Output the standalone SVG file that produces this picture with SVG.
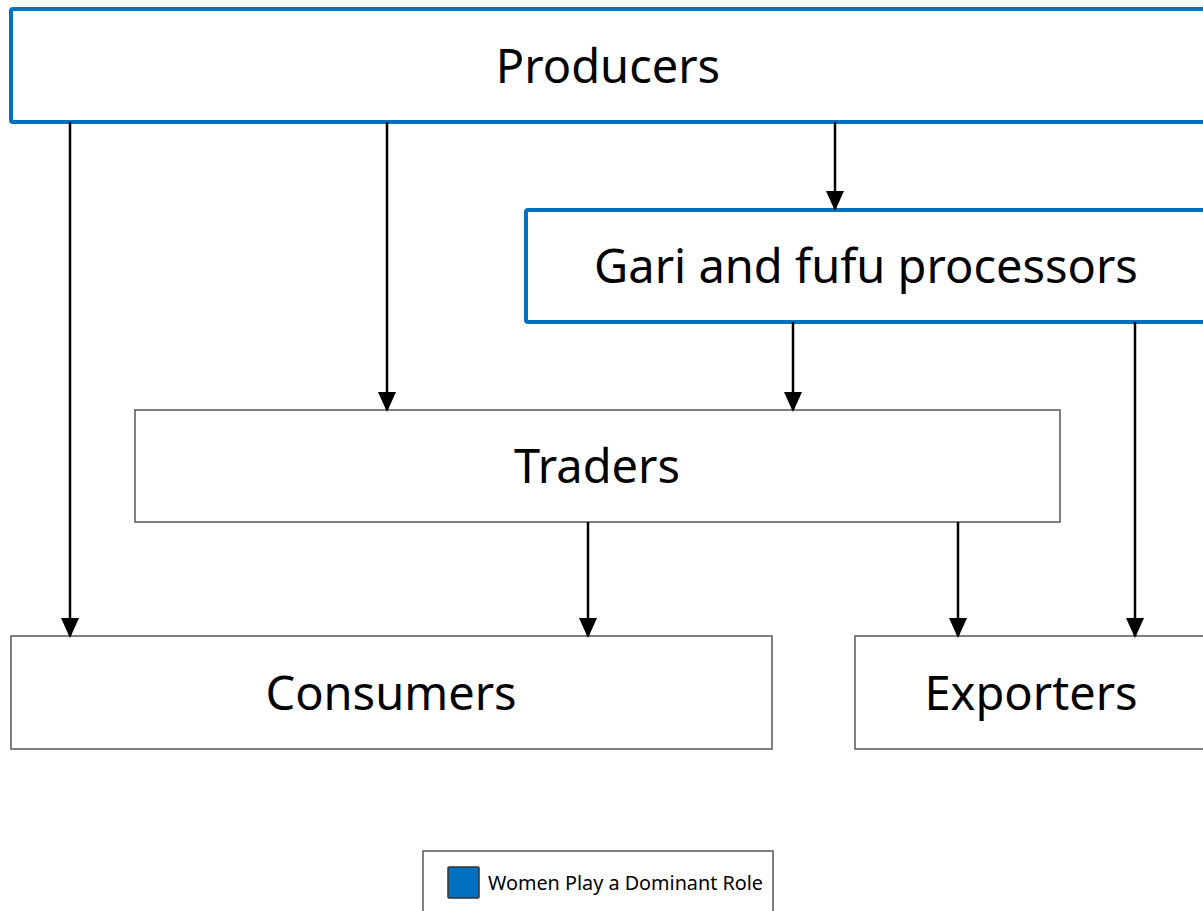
<svg xmlns="http://www.w3.org/2000/svg" width="1203" height="911" viewBox="0 0 1203 911">
<style>
.blue{fill:#fff;stroke:#0070C0;stroke-width:4}
.gray{fill:#fff;stroke:#555;stroke-width:1.5}
.lbl{font-family:"Noto Sans","Open Sans",sans-serif;font-size:47px;fill:#000;text-anchor:middle}
.leg{font-family:"Noto Sans","Open Sans",sans-serif;font-size:19.8px;fill:#000}
.c{stroke:#000;stroke-width:2.5;fill:none;marker-end:url(#ah)}
</style>
<defs>
<marker id="ah" markerUnits="userSpaceOnUse" markerWidth="20" markerHeight="28" refX="18" refY="9" orient="auto" viewBox="0 0 20 18">
<path d="M0,0 L20,9 L0,18 Z" fill="#000"/>
</marker>
</defs>
<rect width="1203" height="911" fill="#fff"/>
<g id="producers"><rect class="blue" x="11" y="9" width="1200" height="113" rx="2"/><text class="lbl" x="608" y="83">Producers</text></g>
<g id="processors"><rect class="blue" x="526" y="210" width="690" height="112" rx="2"/><text class="lbl" x="866" y="283">Gari and fufu processors</text></g>
<g id="traders"><rect class="gray" x="135" y="410" width="925" height="112"/><text class="lbl" x="597" y="483">Traders</text></g>
<g id="consumers"><rect class="gray" x="11" y="636" width="761" height="113"/><text class="lbl" x="391" y="710">Consumers</text></g>
<g id="exporters"><rect class="gray" x="855" y="636" width="360" height="113"/><text class="lbl" x="1031" y="710">Exporters</text></g>
<g id="legend"><rect class="gray" x="423" y="851" width="350" height="80"/><rect x="448" y="867" width="31" height="31" fill="#0070C0" stroke="#333" stroke-width="1.5" rx="1"/><text class="leg" x="488" y="890">Women Play a Dominant Role</text></g>
<g id="connectors">
<path class="c" d="M70,122 V636"/>
<path class="c" d="M387,122 V410"/>
<path class="c" d="M835,122 V209"/>
<path class="c" d="M793,322 V410"/>
<path class="c" d="M1135,322 V636"/>
<path class="c" d="M588,522 V636"/>
<path class="c" d="M958,522 V636"/>
</g>
</svg>
